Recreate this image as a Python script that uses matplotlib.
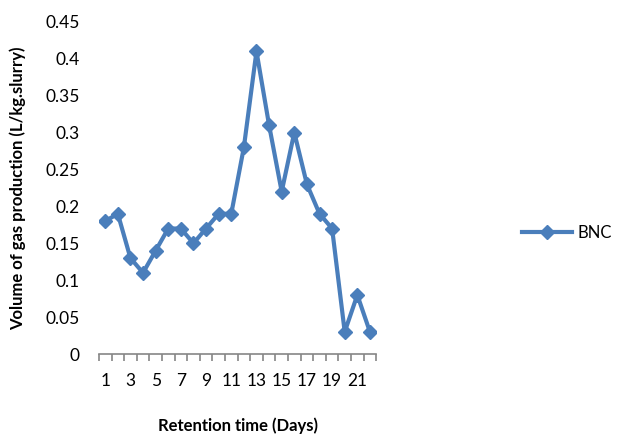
import matplotlib
matplotlib.use("Agg")
import matplotlib.pyplot as plt

plt.rcParams['font.family'] = ['Lato', 'DejaVu Sans']

# retention days and gas volume
days = list(range(1, 23))
bnc = [0.18, 0.19, 0.13, 0.11, 0.14, 0.17, 0.17, 0.15, 0.17, 0.19, 0.19,
       0.28, 0.41, 0.31, 0.22, 0.30, 0.23, 0.19, 0.17, 0.03, 0.08, 0.03]
y_ticks = [0, 0.05, 0.1, 0.15, 0.2, 0.25, 0.3, 0.35, 0.4, 0.45]
y_labels = ['0', '0.05', '0.1', '0.15', '0.2', '0.25', '0.3', '0.35', '0.4', '0.45']

fig = plt.figure(figsize=(6.26, 4.36), dpi=100)
ax = fig.add_axes([0.158, 0.188, 0.443, 0.762])

ax.plot(days, bnc, color='#4A7EBB', linewidth=3, marker='D', markersize=7,
        label='BNC')

ax.set_xlim(0.5, 22.5)
ax.set_ylim(0, 0.45)
ax.set_yticks(y_ticks)
ax.set_yticklabels(y_labels, fontsize=12.5)

# category labels every other day, tick marks between categories
ax.set_xticks(days[::2])
ax.set_xticklabels([str(d) for d in days[::2]], fontsize=12.5)
ax.tick_params(axis='x', length=0, pad=14)
ax.set_xticks([d + 0.5 for d in [0] + days], minor=True)
ax.tick_params(axis='x', which='minor', length=5, color='#868686', width=1.2, direction='out')
ax.tick_params(axis='y', length=0, pad=14)

for s in ['top', 'right', 'left']:
    ax.spines[s].set_visible(False)
ax.spines['bottom'].set_color('#868686')
ax.spines['bottom'].set_linewidth(1.2)

ax.set_xlabel('Retention time (Days)', fontsize=12, fontweight='bold', labelpad=20)
ax.set_ylabel('Volume of gas production (L/kg.slurry)', fontsize=12, fontweight='bold', labelpad=14)

ax.legend(loc='center left', bbox_to_anchor=(1.47, 0.365), frameon=False,
          fontsize=12, handlelength=3.0, handletextpad=0.35)

fig.savefig('out.png', dpi=100)
